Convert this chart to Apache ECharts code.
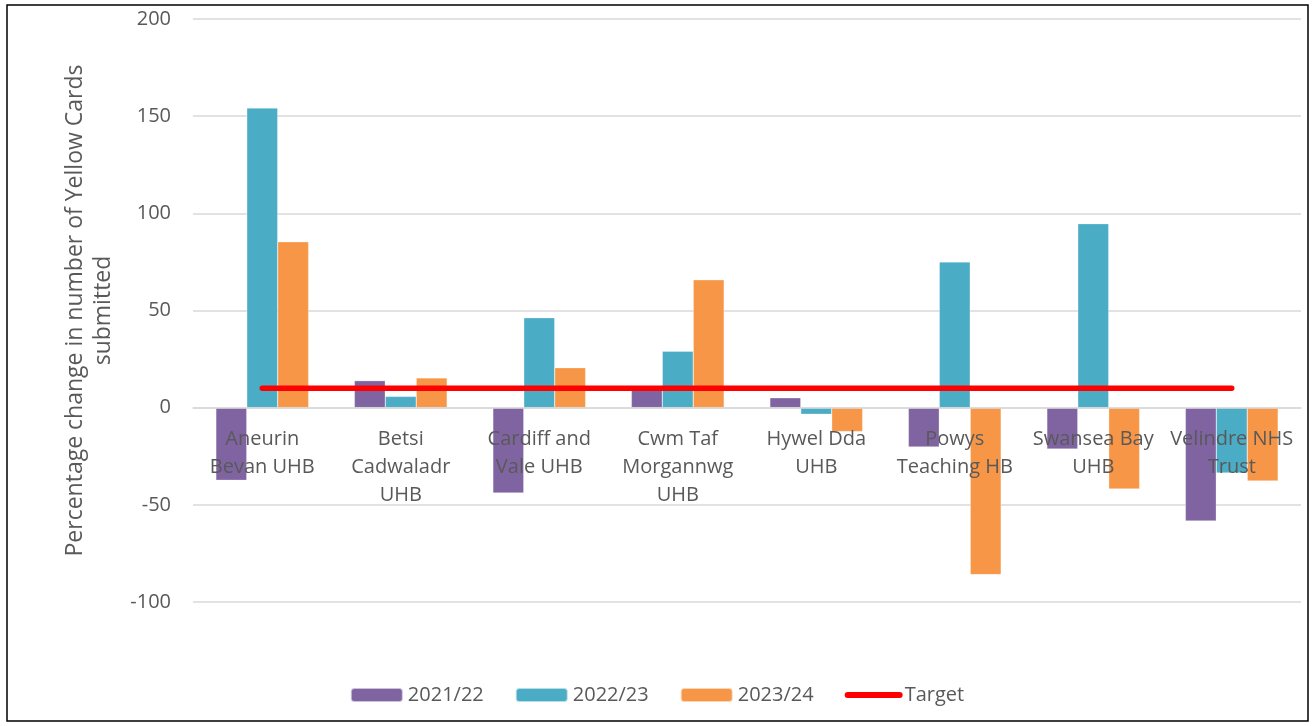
<!DOCTYPE html>
<html>
<head>
<meta charset="utf-8">
<script src="https://cdn.jsdelivr.net/npm/echarts@6/dist/echarts.min.js"></script>
<style>
html,body{margin:0;padding:0;background:#fff;}
#chart{width:1314px;height:726px;}
</style>
</head>
<body>
<div id="chart"></div>
<script>
const categories = [
  'Aneurin\nBevan UHB',
  'Betsi\nCadwaladr\nUHB',
  'Cardiff and\nVale UHB',
  'Cwm Taf\nMorgannwg\nUHB',
  'Hywel Dda\nUHB',
  'Powys\nTeaching HB',
  'Swansea Bay\nUHB',
  'Velindre NHS\nTrust'
];
const seriesNames = ['2021/22', '2022/23', '2023/24', 'Target'];
const values2122 = [-37.4, 13.9, -43.9, 9.5, 5.1, -20.2, -21.3, -58.3];
const values2223 = [154.2, 5.8, 46.3, 29.0, -3.4, 75.0, 94.7, -33.6];
const values2324 = [85.4, 15.3, 20.6, 65.8, -12.3, -85.9, -41.8, -37.7];
const target = [10, 10, 10, 10, 10, 10, 10, 10];
const yTicks = { min: -100, max: 200, interval: 50 };

const colors = ['#8064a2', '#4bacc6', '#f79646', '#ff0000'];
const font = '"Open Sans", "Noto Sans", sans-serif';
const textColor = '#595959';

const chart = echarts.init(document.getElementById('chart'), null, { renderer: 'canvas' });

const barSeries = (name, data, color) => ({
  name, type: 'bar', data,
  barGap: '0%', barCategoryGap: '33%',
  itemStyle: { color, borderColor: 'rgba(255,255,255,0.6)', borderWidth: 0.5 },
  z: 2
});

chart.setOption({
  animation: false,
  textStyle: { fontFamily: font },
  graphic: [{
    type: 'rect', shape: { x: 7, y: 5, width: 1301, height: 716 },
    style: { fill: 'none', stroke: '#000', lineWidth: 1.5 }, z: -1, silent: true
  }],
  grid: { left: 193, right: 13, top: 19, bottom: 124, containLabel: false },
  legend: {
    top: 680, left: 'center',
    itemWidth: 52, itemHeight: 14, itemGap: 31,
    textStyle: { fontSize: 20, color: textColor, fontFamily: font },
    data: [
      seriesNames[0], seriesNames[1], seriesNames[2],
      { name: seriesNames[3], itemStyle: { opacity: 0 }, lineStyle: { width: 6, cap: 'round', color: colors[3] } }
    ]
  },
  xAxis: {
    type: 'category', data: categories, z: 10, position: 'bottom',
    axisLine: { show: true, onZero: false, lineStyle: { color: '#d9d9d9', width: 1.5 } },
    axisTick: { show: false },
    axisLabel: { interval: 0, margin: 18, fontSize: 20, lineHeight: 28, color: textColor, fontFamily: font }
  },
  yAxis: {
    type: 'value', min: yTicks.min, max: yTicks.max, interval: yTicks.interval,
    name: 'Percentage change in number of Yellow Cards\nsubmitted',
    nameLocation: 'middle', nameGap: 76,
    nameTextStyle: { fontSize: 23, color: textColor, lineHeight: 28, fontFamily: font },
    axisLine: { show: false }, axisTick: { show: false },
    axisLabel: { fontSize: 20, color: textColor, margin: 22, fontFamily: font },
    splitLine: { lineStyle: { color: '#d9d9d9', width: 1.5 } }
  },
  series: [
    barSeries(seriesNames[0], values2122, colors[0]),
    barSeries(seriesNames[1], values2223, colors[1]),
    barSeries(seriesNames[2], values2324, colors[2]),
    {
      name: seriesNames[3], type: 'line', data: target, symbol: 'none',
      lineStyle: { color: colors[3], width: 5.5, cap: 'round' },
      itemStyle: { color: colors[3] }, z: 5
    }
  ]
});

// Move the category axis (line and labels) up to the zero line, using the library's scale.
const pZero = chart.convertToPixel({ yAxisIndex: 0 }, 0);
const pMin = chart.convertToPixel({ yAxisIndex: 0 }, yTicks.min);
chart.setOption({ xAxis: { offset: pZero - pMin } });
</script>
</body>
</html>
